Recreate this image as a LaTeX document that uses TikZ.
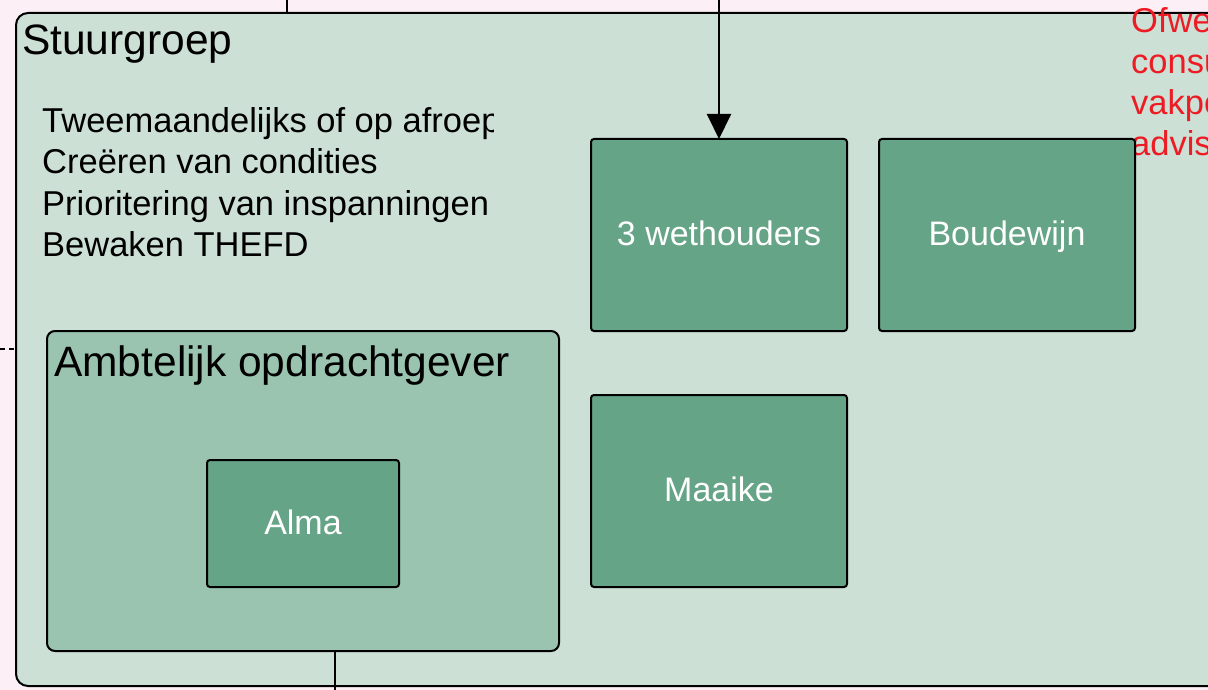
\documentclass[tikz,border=0pt]{standalone}
\usepackage{fontspec}
\setmainfont{Liberation Sans}
\usetikzlibrary{arrows.meta}
\definecolor{bgpink}{HTML}{FCF0F6}
\definecolor{sgfill}{HTML}{CDE0D6}
\definecolor{aofill}{HTML}{9AC4B0}
\definecolor{boxfill}{HTML}{66A488}
\definecolor{redtxt}{HTML}{ED1C24}
\tikzset{
  panel/.style={draw=black, line width=2pt, rounded corners=#1, inner sep=0pt, outer sep=0pt},
  person/.style={panel=3pt, fill=boxfill, text=white, font=\fontsize{34}{40}\selectfont,
    text height=25pt, text depth=4pt,
    minimum width=256pt, minimum height=192pt},
  body/.style={anchor=base west, inner sep=0pt, font=\fontsize{34.5}{41}\selectfont},
  title/.style={anchor=base west, inner sep=0pt, font=\fontsize{42.5}{48}\selectfont},
  conn/.style={draw=black, line width=2pt},
}
\begin{document}
\begin{tikzpicture}[x=1pt,y=-1pt]
\useasboundingbox[fill=bgpink] (0,0) rectangle (1208,690);
% main panel
\node[panel=12pt, fill=sgfill, minimum width=1214pt, minimum height=673pt] (sg) at (623,349.5) {};
\node[title] (sgt) at (22,55) {Stuurgroep};
\begin{scope}
  \clip (30,100) rectangle (493,145);
  \node[body] (l1) at (42,133) {Tweemaandelijks of op afroep};
\end{scope}
\node[body] (l2) at (42,174) {Creëren van condities};
\node[body] (l3) at (42,215) {Prioritering van inspanningen};
\node[body] (l4) at (42,256) {Bewaken THEFD};
% red text (cut off by the right edge, as in the reference)
\node[body, text=redtxt] (r1) at (1131,33) {Ofwerkgroep};
\node[body, text=redtxt] (r2) at (1131,74) {consulenten};
\node[body, text=redtxt] (r3) at (1131,115) {vakpoule};
\node[body, text=redtxt] (r4) at (1131,156) {adviseurs};
% ambtelijk opdrachtgever
\node[panel=8pt, fill=aofill, minimum width=512pt, minimum height=320pt] (ao) at (303,491) {};
\node[title] (aot) at (54,376) {Ambtelijk opdrachtgever};
\node[person, minimum width=192pt, minimum height=127pt] (alma) at (303,523.5) {Alma};
% persons
\node[person] (w3) at (719,235) {3 wethouders};
\node[person] (bw) at (1007,235) {Boudewijn};
\node[person] (mk) at (719,491) {Maaike};
% connectors
\coordinate (t0) at (287,0);
\coordinate (t1) at (719,0);
\coordinate (d0) at (0,349);
\coordinate (b0) at (335,690);
\draw[conn] (t0) -- (t0 |- sg.north);
\draw[conn, -{Triangle[width=24pt,length=25pt]}] (t1) -- (w3.north);
\draw[draw=black, line width=1.5pt, dash pattern=on 5pt off 4pt] (d0) -- (d0 -| sg.west);
\draw[conn] (b0 |- ao.south) -- (b0);
\end{tikzpicture}
\end{document}
